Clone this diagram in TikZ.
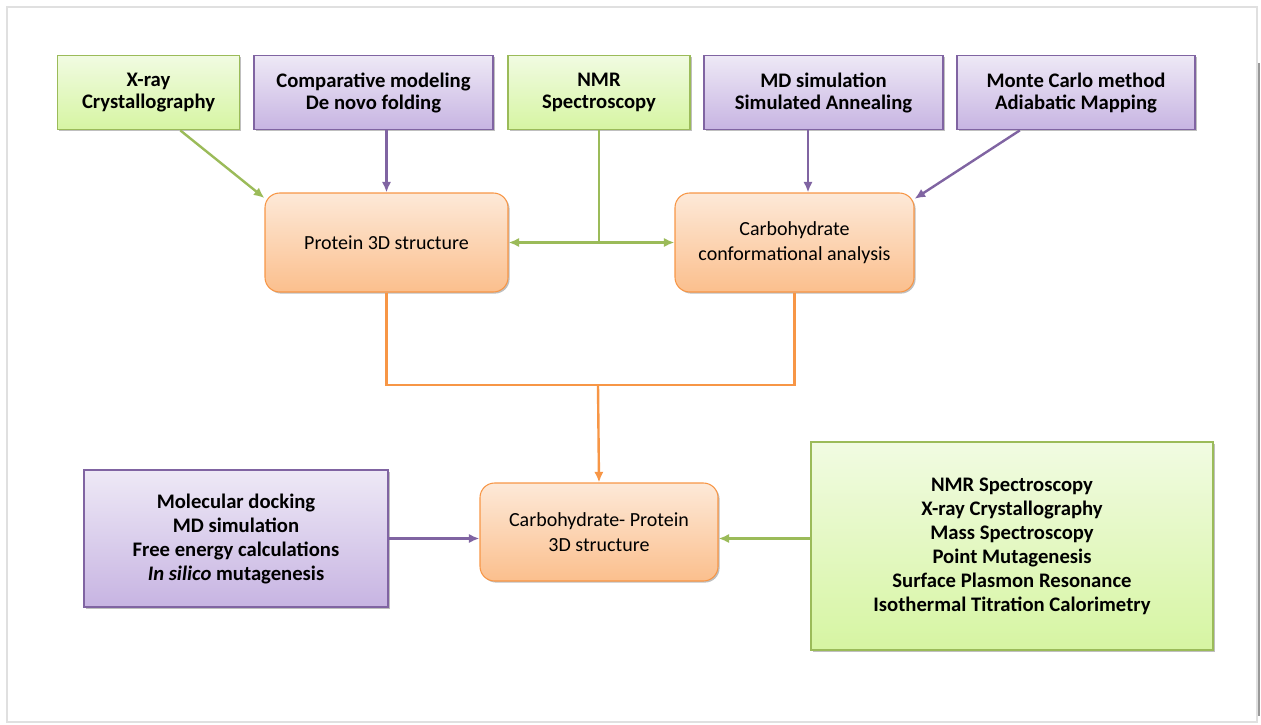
\documentclass[tikz,border=0pt]{standalone}
\usepackage{fontspec}
\setmainfont{Carlito}
\usepackage{xcolor}
\usetikzlibrary{positioning, arrows.meta, shadows}
\definecolor{methG}{HTML}{9BBB59}
\definecolor{methGtop}{HTML}{F1FBE2}
\definecolor{methGbot}{HTML}{D6F5A2}
\definecolor{methP}{HTML}{8064A2}
\definecolor{methPtop}{HTML}{EEE9F6}
\definecolor{methPbot}{HTML}{C7B4E2}
\definecolor{strO}{HTML}{F79646}
\definecolor{strOtop}{HTML}{FDE9D8}
\definecolor{strObot}{HTML}{FBBF8D}

\begin{document}
\begin{tikzpicture}[x=0.75pt, y=-0.75pt,
  every node/.style={align=center, inner sep=2pt},
  softshadow/.style={drop shadow={shadow xshift=1.2pt, shadow yshift=-1.2pt, opacity=0.25, fill=black}},
  greenbox/.style={draw=methG, line width=0.8pt, top color=methGtop, bottom color=methGbot,
    font=\fontsize{15.5pt}{16.5pt}\selectfont\bfseries, softshadow},
  purplebox/.style={draw=methP, line width=0.8pt, top color=methPtop, bottom color=methPbot,
    font=\fontsize{15.5pt}{16.5pt}\selectfont\bfseries, softshadow},
  structbox/.style={draw=strO, line width=0.8pt, rounded corners=11pt, top color=strOtop,
    bottom color=strObot, font=\fontsize{15pt}{18.5pt}\selectfont, softshadow},
  greenline/.style={draw=methG, line width=1.8pt, -{Latex[length=8pt, width=7pt]}},
  purpleline/.style={draw=methP, line width=1.8pt, -{Latex[length=8pt, width=7pt]}},
  orangeline/.style={draw=strO, line width=1.8pt}]
  \useasboundingbox (0,0) rectangle (1261,725);
  % page frame
  \draw[black!12, line width=0.8pt] (7,7) rectangle (1257,722);
  \draw[black!40, line width=2pt] (1259,63) -- (1259,716);
  % method boxes, top row
  \node[greenbox, minimum width=137pt, minimum height=56pt] (xray) at (148.5,92.5)
    {X-ray\\Crystallography};
  \node[purplebox, minimum width=179.25pt, minimum height=56pt] (comp) at (373.5,92.5)
    {Comparative modeling\\De novo folding};
  \node[greenbox, minimum width=136.5pt, minimum height=56pt] (nmr) at (599,92.5)
    {NMR\\Spectroscopy};
  \node[purplebox, minimum width=179.25pt, minimum height=56pt] (md) at (823.5,92.5)
    {MD simulation\\Simulated Annealing};
  \node[purplebox, minimum width=178.5pt, minimum height=56pt] (mc) at (1076,92.5)
    {Monte Carlo method\\Adiabatic Mapping};
  % structures
  \node[structbox, minimum width=182.25pt, minimum height=74.25pt] (prot) at (386.5,242.5)
    {Protein 3D structure};
  \node[structbox, minimum width=179.25pt, minimum height=74.25pt] (carb) at (794.5,242.5)
    {Carbohydrate\\conformational analysis};
  \node[structbox, minimum width=178.5pt, minimum height=73.5pt] (cpx) at (599,532)
    {Carbohydrate- Protein\\3D structure};
  % bottom method boxes
  \node[purplebox, minimum width=228pt, minimum height=102.75pt,
    font=\fontsize{15.5pt}{18pt}\selectfont\bfseries] (dock) at (236,538.5)
    {Molecular docking\\MD simulation\\Free energy calculations\\\textit{In silico} mutagenesis};
  \node[greenbox, minimum width=301.5pt, minimum height=156pt,
    font=\fontsize{15.5pt}{18pt}\selectfont\bfseries] (expt) at (1012,546)
    {NMR Spectroscopy\\X-ray Crystallography\\Mass Spectroscopy\\Point Mutagenesis\\
     Surface Plasmon Resonance\\Isothermal Titration Calorimetry};
  % arrows into the structures
  \draw[greenline] (xray.-50) -- (prot.160);
  \draw[purpleline] (comp.south -| prot.north) -- (prot.north);
  \coordinate (nmrj) at (nmr.south |- prot.east);
  \draw[methG, line width=1.8pt] (nmr.south) -- (nmrj);
  \draw[greenline] (nmrj) -- (prot.east);
  \draw[greenline] (nmrj) -- (carb.west);
  \draw[purpleline] (md.south -| 808,0) -- (carb.north -| 808,0);
  \draw[purpleline] (mc.-146) -- (carb.20);
  % merge of both structures
  \coordinate (merge) at (598,385);
  \draw[orangeline] (prot.south) |- (merge) -| (carb.south);
  \draw[orangeline, -{Latex[length=8pt, width=7pt]}] (merge) -- (cpx.north);
  \draw[purpleline] (dock.east) -- (dock.east -| cpx.west);
  \draw[greenline] (expt.west |- dock.east) -- (cpx.east |- dock.east);
\end{tikzpicture}
\end{document}
